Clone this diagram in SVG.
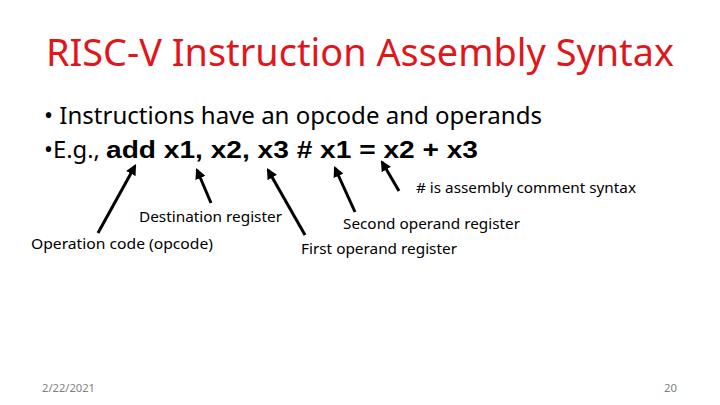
<svg xmlns="http://www.w3.org/2000/svg" width="720" height="405" viewBox="0 0 720 405">
<style>
.t{font-family:"Noto Sans","Open Sans",sans-serif;fill:#000}
.lbl{font-size:14.5px}
.b{font-family:"Liberation Sans",Arial,sans-serif;font-weight:bold}
.ft{font-family:"Noto Sans",sans-serif;font-size:11px;fill:#7f7f7f}
.arr{stroke:#000;stroke-width:3;fill:none;marker-end:url(#ah)}
</style>
<defs>
<marker id="ah" viewBox="0 0 10 10" refX="8" refY="5" markerWidth="3.6" markerHeight="3.6" orient="auto" markerUnits="strokeWidth">
<path d="M0,0 L10,5 L0,10 z" fill="#000"/>
</marker>
</defs>
<rect width="720" height="405" fill="#fff"/>
<g id="title">
<text x="46" y="66" class="t" font-size="38" fill="#e0161b" style="fill:#e0161b" textLength="628" lengthAdjust="spacingAndGlyphs">RISC-V Instruction Assembly Syntax</text>
</g>
<g id="bullet1">
<text x="44" y="124" class="t" font-size="23" textLength="498" lengthAdjust="spacingAndGlyphs">• Instructions have an opcode and operands</text>
</g>
<g id="bullet2">
<text x="44" y="158" class="t" font-size="23" textLength="56" lengthAdjust="spacingAndGlyphs">•E.g.,</text>
<text x="106" y="158" class="b" font-size="23" textLength="372" lengthAdjust="spacingAndGlyphs">add x1, x2, x3 # x1 = x2 + x3</text>
</g>
<g id="connectors">
<line class="arr" x1="98" y1="233" x2="135" y2="166"/>
<line class="arr" x1="211" y1="203" x2="197" y2="170"/>
<line class="arr" x1="305" y1="235" x2="268" y2="170"/>
<line class="arr" x1="355" y1="212" x2="335" y2="168"/>
<line class="arr" x1="399" y1="191" x2="382" y2="162"/>
</g>
<g id="comment-label">
<text x="416" y="193" class="t lbl" textLength="220" lengthAdjust="spacingAndGlyphs"># is assembly comment syntax</text>
</g>
<g id="dest-label">
<text x="139" y="222" class="t lbl" textLength="143" lengthAdjust="spacingAndGlyphs">Destination register</text>
</g>
<g id="opcode-label">
<text x="31" y="249" class="t lbl" textLength="182" lengthAdjust="spacingAndGlyphs">Operation code (opcode)</text>
</g>
<g id="second-label">
<text x="343" y="229" class="t lbl" textLength="177" lengthAdjust="spacingAndGlyphs">Second operand register</text>
</g>
<g id="first-label">
<text x="301" y="254" class="t lbl" textLength="156" lengthAdjust="spacingAndGlyphs">First operand register</text>
</g>
<g id="footer">
<text x="42" y="392" class="ft" textLength="53" lengthAdjust="spacingAndGlyphs">2/22/2021</text>
<text x="664" y="392" class="ft" textLength="13" lengthAdjust="spacingAndGlyphs">20</text>
</g>
</svg>
